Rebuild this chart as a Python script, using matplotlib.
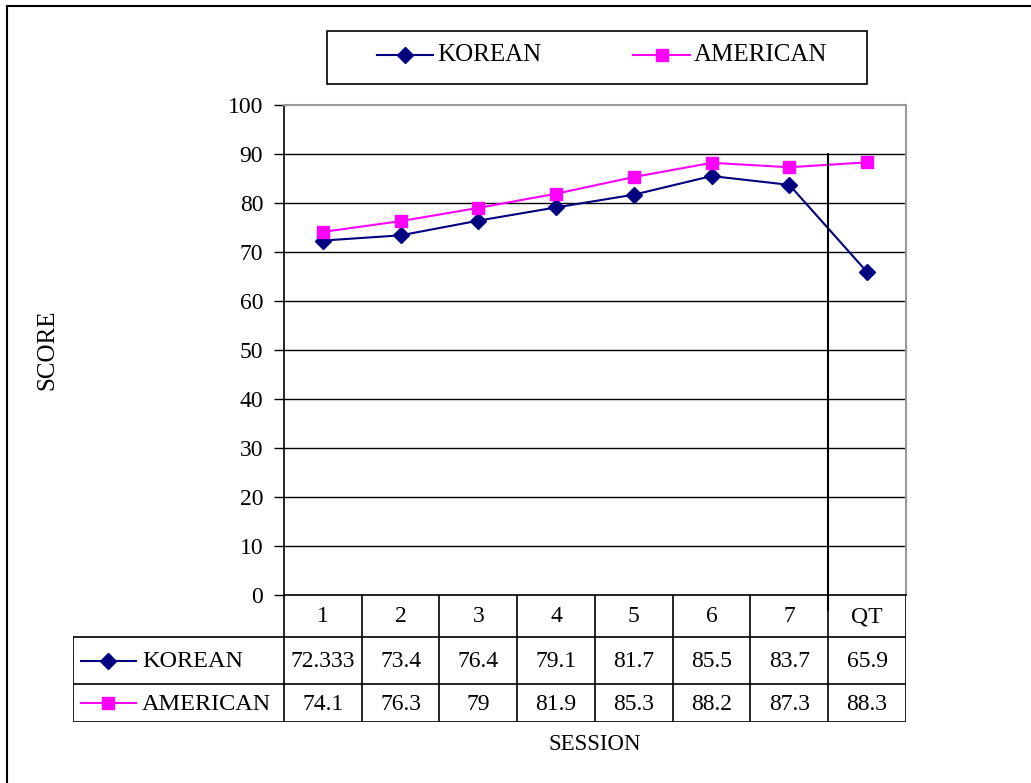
import matplotlib
matplotlib.use("Agg")
import matplotlib.pyplot as plt
from matplotlib.lines import Line2D
from matplotlib.patches import Rectangle

plt.rcParams['font.family'] = ['Liberation Serif', 'DejaVu Serif']

sessions = ["1", "2", "3", "4", "5", "6", "7", "QT"]
korean = [72.333, 73.4, 76.4, 79.1, 81.7, 85.5, 83.7, 65.9]
american = [74.1, 76.3, 79, 81.9, 85.3, 88.2, 87.3, 88.3]
series_names = ["KOREAN", "AMERICAN"]
y_ticks = [0, 10, 20, 30, 40, 50, 60, 70, 80, 90, 100]

KOR_COLOR = "#000080"
AME_COLOR = "#FF00FF"

W, H = 1031, 783
fig = plt.figure(figsize=(W / 100, H / 100), dpi=100)


def fx(px):
    return px / W


def fy(py):
    return 1 - py / H


# outer frame (top and left edges)
fig.add_artist(Line2D([fx(7), 1], [fy(6), fy(6)], color="black", lw=1.5))
fig.add_artist(Line2D([fx(7), fx(7)], [fy(6), 0], color="black", lw=1.5))

# plot area
x0, x1, ytop, ybot = 284, 906, 105, 595
ax = fig.add_axes([fx(x0), fy(ybot), fx(x1 - x0), (ybot - ytop) / H])
n = len(sessions)
xs = list(range(n))
ax.set_xlim(-0.5, n - 0.5)
ax.set_ylim(0, 100)
ax.set_yticks(y_ticks)
ax.set_yticklabels([str(t) for t in y_ticks], fontsize=17)
ax.set_xticks([])
for t in y_ticks[1:-1]:
    ax.axhline(t, color="black", lw=1, zorder=1)
ax.spines['top'].set_color("#999999")
ax.spines['right'].set_color("#999999")
ax.spines['top'].set_linewidth(1.5)
ax.spines['right'].set_linewidth(1.5)
ax.spines['left'].set_linewidth(1.2)
ax.spines['bottom'].set_linewidth(1.2)
ax.tick_params(axis='y', direction='out', length=7, width=1, pad=8)

ax.plot(xs, korean, color=KOR_COLOR, lw=1.5, marker="D", ms=8, mfc=KOR_COLOR,
        mec=KOR_COLOR, zorder=3)
ax.plot(xs, american, color=AME_COLOR, lw=1.5, marker="s", ms=9, mfc=AME_COLOR,
        mec=AME_COLOR, zorder=3)

# divider before the QT column
ax.plot([n - 1.5, n - 1.5], [90, -3], color="black", lw=1.5, clip_on=False, zorder=4)

fig.text(fx(47), fy(350), "SCORE", rotation=90, ha="center", va="center", fontsize=18)

# data table under the plot
tx0, tx1 = 73, 906
ty0, ty1 = 595, 722
row_y = [595, 637, 684, 722]
col_w = (x1 - x0) / n
tab = fig.add_axes([fx(tx0), fy(ty1), fx(tx1 - tx0), (ty1 - ty0) / H])
tab.set_xlim(tx0, tx1)
tab.set_ylim(ty1, ty0)
tab.axis("off")

lc = "black"
# horizontal lines
tab.plot([tx0, x1], [row_y[1], row_y[1]], color=lc, lw=1.2)
tab.plot([tx0, x1], [row_y[2], row_y[2]], color=lc, lw=1.2)
tab.plot([tx0, x1], [row_y[3], row_y[3]], color=lc, lw=1.2)
# vertical lines
tab.plot([tx0, tx0], [row_y[1], row_y[3]], color=lc, lw=1.2)
for i in range(n + 1):
    xv = x0 + i * col_w
    tab.plot([xv, xv], [row_y[0], row_y[3]], color=lc, lw=1.2)

for i, s in enumerate(sessions):
    cx = x0 + (i + 0.5) * col_w
    tab.text(cx, (row_y[0] + row_y[1]) / 2 + 1, s, ha="center", va="center", fontsize=17)
    tab.text(cx, (row_y[1] + row_y[2]) / 2 + 1, f"{korean[i]:g}", ha="center",
             va="center", fontsize=17)
    tab.text(cx, (row_y[2] + row_y[3]) / 2 + 1, f"{american[i]:g}", ha="center",
             va="center", fontsize=17)

row_styles = [(KOR_COLOR, "D", 8), (AME_COLOR, "s", 9)]
for r, (name, (c, m, ms)) in enumerate(zip(series_names, row_styles)):
    yc = (row_y[r + 1] + row_y[r + 2]) / 2
    tab.plot([81, 136], [yc, yc], color=c, lw=1.5)
    tab.plot([108], [yc], marker=m, ms=ms, color=c)
    tab.text(142, yc + 1, name, ha="left", va="center", fontsize=17.5)

fig.text(fx(595), fy(745), "SESSION", ha="center", va="center", fontsize=16.5)

# legend box
fig.add_artist(Rectangle((fx(327), fy(84)), fx(867 - 327), (84 - 31) / H,
                         fill=False, ec="black", lw=1.2))
leg = fig.add_axes([fx(327), fy(84), fx(867 - 327), (84 - 31) / H])
leg.set_xlim(327, 867)
leg.set_ylim(84, 31)
leg.axis("off")
ly = 55
leg_pos = [(377, 433), (633, 690)]
for name, (c, m, ms), (a, b) in zip(series_names, row_styles, leg_pos):
    leg.plot([a, b], [ly, ly], color=c, lw=1.5)
    leg.plot([(a + b) / 2], [ly], marker=m, ms=ms, color=c)
    leg.text(b + 4, ly, name, ha="left", va="center", fontsize=18)

fig.savefig("out.png", dpi=100)
